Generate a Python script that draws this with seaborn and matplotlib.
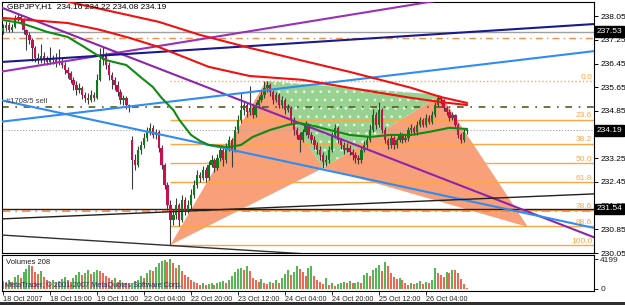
import numpy as np
import pandas as pd
import matplotlib
matplotlib.use("Agg")
import matplotlib.pyplot as plt
import matplotlib.transforms as mtransforms
from matplotlib.patches import Polygon, Rectangle
import seaborn as sns

# ---------------- data ----------------
time_labels = ["18 Oct 2007", "18 Oct 19:00", "19 Oct 11:00", "22 Oct 04:00", "22 Oct 20:00",
               "23 Oct 12:00", "24 Oct 04:00", "24 Oct 20:00", "25 Oct 12:00", "26 Oct 04:00"]
time_label_bars = [0, 16, 32, 48, 64, 80, 96, 112, 128, 144]

opens = [237.55, 237.65, 237.76, 237.59, 237.69, 237.99, 238.03, 237.92, 237.59, 237.42,
         237.25, 236.98, 236.64, 236.57, 236.71, 236.57, 236.51, 236.64, 236.57, 236.47,
         236.54, 236.40, 236.24, 236.13, 235.90, 235.73, 235.56, 235.63, 235.39, 235.29,
         235.22, 235.39, 235.29, 235.90, 236.57, 236.74, 236.40, 236.07, 235.90, 235.73,
         235.49, 235.22, 235.29, 235.05, 233.87, 233.19, 233.03, 233.53, 233.70, 233.94,
         234.14, 234.28, 234.04, 234.14, 233.60, 233.03, 232.35, 231.67, 231.17, 231.34,
         231.67, 231.17, 231.84, 231.51, 231.67, 232.01, 232.35, 232.69, 232.59, 232.86,
         232.59, 233.03, 233.19, 232.92, 233.26, 233.53, 233.19, 233.60, 233.87, 233.53,
         234.21, 234.55, 234.88, 235.05, 234.82, 234.95, 234.71, 235.05, 235.22, 235.39,
         235.63, 235.73, 235.49, 235.22, 235.39, 235.05, 235.22, 234.88, 234.95, 234.55,
         234.21, 234.04, 233.87, 234.14, 234.38, 234.04, 233.87, 233.70, 233.53, 233.36,
         233.13, 233.19, 233.53, 234.04, 234.28, 233.87, 233.70, 233.53, 233.60, 233.47,
         233.36, 233.26, 233.19, 233.53, 233.70, 233.87, 234.21, 234.71, 234.38, 234.88,
         234.21, 233.87, 233.70, 233.94, 233.70, 233.87, 234.04, 233.87, 233.94, 234.21,
         234.28, 234.14, 234.38, 234.55, 234.38, 234.61, 234.48, 234.71, 235.05, 235.29,
         235.22, 234.95, 234.82, 234.61, 234.71, 234.38, 234.04, 233.87, 234.16]
highs = [237.80, 237.88, 237.85, 237.80, 238.10, 238.12, 238.10, 237.98, 237.62, 237.50,
         237.30, 237.05, 236.80, 237.10, 236.85, 236.70, 237.00, 236.75, 236.80, 236.95,
         236.65, 236.50, 236.35, 236.20, 236.00, 235.85, 235.80, 235.70, 235.50, 235.45,
         235.55, 235.50, 236.10, 236.98, 237.00, 236.85, 236.50, 236.15, 236.00, 235.85,
         235.60, 235.40, 235.35, 235.10, 234.00, 233.40, 233.65, 233.85, 234.10, 234.30,
         234.45, 234.38, 234.25, 234.20, 233.70, 233.10, 232.45, 231.85, 231.55, 231.90,
         231.75, 232.00, 231.95, 231.85, 232.20, 232.50, 232.85, 232.80, 233.00, 232.95,
         233.15, 233.35, 233.25, 233.40, 233.65, 233.60, 233.75, 234.00, 233.95, 234.35,
         234.70, 235.45, 235.20, 235.15, 235.70, 235.05, 235.15, 235.35, 235.55, 235.86,
         235.85, 235.80, 235.55, 235.50, 235.45, 235.35, 235.30, 235.10, 235.00, 234.65,
         234.30, 234.15, 234.25, 234.50, 234.45, 234.15, 234.00, 233.80, 233.65, 233.45,
         233.35, 233.65, 234.15, 234.40, 234.35, 233.95, 233.80, 233.75, 233.70, 233.55,
         233.45, 233.35, 233.65, 233.85, 234.00, 234.40, 234.90, 234.80, 235.15, 234.95,
         234.30, 233.95, 234.05, 234.00, 233.95, 234.15, 234.10, 234.05, 234.30, 234.40,
         234.35, 234.50, 234.65, 234.60, 234.75, 234.70, 234.85, 235.15, 235.39, 235.35,
         235.25, 235.00, 234.90, 234.80, 234.75, 234.45, 234.10, 234.25, 234.22]
lows = [237.45, 237.55, 237.50, 237.52, 237.65, 237.90, 237.80, 237.45, 236.90, 237.10,
        236.55, 236.50, 236.45, 236.48, 236.45, 236.40, 236.45, 236.45, 236.35, 236.40,
        236.30, 236.10, 235.95, 235.80, 235.55, 235.40, 235.45, 235.25, 235.15, 235.10,
        235.15, 235.18, 235.25, 235.85, 236.40, 236.25, 235.90, 235.60, 235.55, 235.35,
        235.10, 235.05, 234.90, 234.82, 232.20, 232.85, 232.95, 233.40, 233.60, 233.85,
        234.05, 233.95, 233.90, 233.45, 232.90, 232.20, 231.50, 230.32, 231.00, 231.20,
        230.95, 231.10, 231.35, 231.40, 231.55, 231.90, 232.25, 232.45, 232.50, 232.45,
        232.50, 232.95, 232.80, 232.85, 233.15, 233.00, 233.10, 233.50, 232.95, 233.45,
        234.10, 234.45, 234.70, 234.65, 234.70, 234.60, 234.65, 234.95, 235.15, 235.30,
        235.50, 235.35, 235.10, 235.15, 234.95, 234.95, 234.75, 234.80, 234.40, 234.05,
        233.90, 233.45, 233.80, 234.05, 233.95, 233.75, 233.55, 233.40, 233.20, 232.92,
        233.00, 233.10, 233.45, 233.95, 233.75, 233.55, 233.40, 233.45, 233.35, 233.20,
        233.10, 233.05, 233.10, 233.45, 233.60, 233.80, 234.15, 234.25, 234.30, 234.10,
        233.75, 233.55, 233.60, 233.55, 233.60, 233.80, 233.75, 233.80, 233.85, 234.10,
        234.05, 234.05, 234.30, 234.30, 234.30, 234.40, 234.40, 234.65, 235.00, 235.10,
        234.85, 234.70, 234.50, 234.55, 234.30, 233.95, 233.75, 233.80, 234.08]
closes = [237.65, 237.76, 237.59, 237.69, 237.99, 238.03, 237.92, 237.59, 237.42, 237.25,
          236.98, 236.64, 236.57, 236.71, 236.57, 236.51, 236.64, 236.57, 236.47, 236.54,
          236.40, 236.24, 236.13, 235.90, 235.73, 235.56, 235.63, 235.39, 235.29, 235.22,
          235.39, 235.29, 235.90, 236.57, 236.74, 236.40, 236.07, 235.90, 235.73, 235.49,
          235.22, 235.29, 235.05, 234.95, 233.19, 233.03, 233.53, 233.70, 233.94, 234.14,
          234.28, 234.04, 234.14, 233.60, 233.03, 232.35, 231.67, 231.17, 231.34, 231.67,
          231.17, 231.84, 231.51, 231.67, 232.01, 232.35, 232.69, 232.59, 232.86, 232.59,
          233.03, 233.19, 232.92, 233.26, 233.53, 233.19, 233.60, 233.87, 233.53, 234.21,
          234.55, 234.88, 235.05, 234.82, 234.95, 234.71, 235.05, 235.22, 235.39, 235.63,
          235.73, 235.49, 235.22, 235.39, 235.05, 235.22, 234.88, 234.95, 234.55, 234.21,
          234.04, 233.87, 234.14, 234.38, 234.04, 233.87, 233.70, 233.53, 233.36, 233.13,
          233.19, 233.53, 234.04, 234.28, 233.87, 233.70, 233.53, 233.60, 233.47, 233.36,
          233.26, 233.19, 233.53, 233.70, 233.87, 234.21, 234.71, 234.38, 234.88, 234.21,
          233.87, 233.70, 233.94, 233.70, 233.87, 234.04, 233.87, 233.94, 234.21, 234.28,
          234.14, 234.38, 234.55, 234.38, 234.61, 234.48, 234.71, 235.05, 235.29, 235.22,
          234.95, 234.82, 234.61, 234.71, 234.38, 234.04, 233.87, 234.14, 234.19]
volumes = [1100, 900, 1300, 1000, 1700, 2000, 1600, 2400, 2800, 3300,
           3200, 2400, 2100, 2500, 1700, 1200, 1000, 1300, 900, 1100,
           1400, 1700, 1200, 1000, 1600, 2000, 2400, 1900, 2300, 2600,
           2100, 2400, 2700, 2500, 2200, 1800, 1500, 1300, 1600, 1000,
           1200, 900, 800, 700, 900, 1100, 1300, 1800, 1600, 2200,
           2700, 2500, 3100, 3600, 3900, 4100, 3800, 4199, 3600, 3000,
           3300, 2500, 2000, 1700, 1200, 1000, 800, 600, 900, 500,
           700, 800, 600, 900, 1000, 1100, 900, 1300, 1800, 2400,
           2800, 3000, 2600, 3200, 2500, 1600, 1200, 1000, 1400, 900,
           700, 1000, 800, 1200, 900, 1500, 2100, 2600, 2000, 2400,
           3200, 2800, 2400, 1800, 3000, 3200, 1800, 1300, 1000, 700,
           1500, 600, 900, 400, 700, 800, 1000, 900, 1100, 800,
           900, 1000, 800, 2000, 2300, 1800, 2600, 2900, 3300, 2500,
           3800, 3200, 2200, 1700, 1400, 1600, 1200, 900, 600, 800,
           700, 900, 1100, 700, 1000, 800, 1200, 2900, 2200, 2000,
           1700, 2400, 2300, 2700, 2600, 2200, 1400, 700, 208]

ma_green_bars = [0, 2, 6, 10, 15, 22, 27, 32, 35, 39, 42, 47, 51, 54, 58, 60, 64, 67, 70,
                 77, 81, 85, 91, 97, 101, 106, 111, 118, 125, 132, 139, 145, 152, 158]
ma_green = [237.92, 237.89, 237.82, 237.69, 237.52, 237.35, 237.05, 236.74, 236.57, 236.47,
            236.40, 235.98, 235.66, 235.29, 234.88, 234.55, 234.04, 233.84, 233.70, 233.63,
            233.70, 233.97, 234.21, 234.38, 234.44, 234.34, 234.21, 234.04, 233.97, 234.04,
            234.04, 234.14, 234.28, 234.24]
ma_red1_bars = [0, 27, 33, 43, 53, 67, 84, 101, 118, 139, 149, 158]
ma_red1 = [239.04, 238.43, 238.30, 238.08, 237.86, 237.42, 236.98, 236.57, 236.17, 235.63, 235.32, 235.12]
ma_red2_bars = [0, 22, 33, 43, 53, 70, 84, 102, 118, 139, 149, 158]
ma_red2 = [237.99, 237.82, 237.59, 237.32, 237.01, 236.34, 236.03, 235.90, 235.63, 235.29, 235.15, 235.05]

trend_bar0 = [-1, -1, -1, -1, -1, -1, -1]
trend_p0 = [236.17, 238.36, 236.50, 234.48, 235.22, 231.20, 230.66]
trend_bar1 = [202, 202, 202, 202, 202, 202, 202]
trend_p1 = [239.45, 230.55, 237.79, 236.88, 230.88, 232.05, 229.41]

level_prices = [237.53, 237.30, 234.99, 234.19, 231.54, 231.48]
fib_levels = [0.0, 23.6, 38.2, 50.0, 61.8, 78.6, 88.6, 100.0]
pattern_names = ["X", "A", "B", "C", "D"]
pattern_bars = [57, 89.5, 109, 149, 178.7]
pattern_prices = [230.32, 235.86, 232.92, 235.39, 230.93]

price_ticks = [238.05, 237.25, 236.45, 235.65, 234.85, 234.05, 233.25, 232.45, 231.65, 230.85, 230.05]
boxed_prices = [237.53, 234.19, 231.54]
title_text = "GBPJPY,H1  234.16 234.22 234.08 234.19"
order_text = "#1708/5 sell"

# ---------------- styling ----------------
sns.set_style("white")
plt.rcParams["font.family"] = ["Liberation Sans", "DejaVu Sans"]
plt.rcParams["hatch.linewidth"] = 0.7

W, H = 625, 305
fig = plt.figure(figsize=(W / 100, H / 100), dpi=100)
fig.patch.set_facecolor("white")


def frac(x0, y0, x1, y1):
    return [x0 / W, 1 - y1 / H, (x1 - x0) / W, (y1 - y0) / H]


ax = fig.add_axes(frac(2, 2, 594, 253))
axv = fig.add_axes(frac(2, 255, 594, 291))
XL = (-0.34, 201.2)
for a in (ax, axv):
    a.set_xlim(*XL)
    a.set_facecolor("white")
    for s in a.spines.values():
        s.set_color("black")
        s.set_linewidth(0.8)
ax.set_ylim(230.05, 238.53)

blend = mtransforms.blended_transform_factory(ax.transAxes, ax.transData)

# pattern fills
P = dict(zip(pattern_names, zip(pattern_bars, pattern_prices)))
orange_fill = "#f7a07a"
for tri in (("X", "A", "B"), ("B", "C", "D")):
    ax.add_patch(Polygon([P[k] for k in tri], closed=True, facecolor=orange_fill,
                         edgecolor="none", zorder=1))
ax.add_patch(Polygon([P[k] for k in ("A", "B", "C")], closed=True, facecolor="#98d290",
                     edgecolor="#e8f6e4", hatch="..", lw=0, zorder=1.1))

# fib levels
fa, fx = pattern_prices[1], pattern_prices[0]
fib_col = "#ffa545"
for lvl in fib_levels:
    pr = fa - lvl / 100.0 * (fa - fx)
    ax.hlines(pr, pattern_bars[0], XL[1], colors=fib_col, lw=1.0,
              linestyles=":" if lvl == 0 else "-", zorder=2)
    ax.text(0.997, pr + 0.01, f"{lvl:.1f}", transform=blend, ha="right", va="bottom",
            fontsize=6, color=fib_col, zorder=7)

# horizontal levels
lvl_styles = [("#a0a0a0", "-", 1.0), ("#f09050", (0, (5, 3, 1, 3)), 1.0),
              ("#5a5a20", (0, (4, 4, 1, 4)), 1.2), ("#b0a0a0", ":", 0.8),
              ("#202020", "-", 1.0), ("#f08040", (0, (5, 3, 1, 3)), 1.2)]
for pr, (col, ls, lw) in zip(level_prices, lvl_styles):
    ax.axhline(pr, color=col, ls=ls, lw=lw, zorder=2)
ax.text(0.006, level_prices[2] + 0.06, order_text, transform=blend, fontsize=5.5,
        color="#404040", va="bottom", ha="left", zorder=7)

# trend lines
trend_styles = [("#9a2fb8", 1.5), ("#8e24aa", 1.5), ("#1a1a8c", 1.5), ("#2f8cf0", 1.5),
                ("#2f8cf0", 1.5), ("#202020", 1.0), ("#303030", 1.0)]
for b0, p0, b1, p1, (col, lw) in zip(trend_bar0, trend_p0, trend_bar1, trend_p1, trend_styles):
    ax.plot([b0, b1], [p0, p1], color=col, lw=lw, zorder=4.5, solid_capstyle="butt")

# candles
idx = np.arange(len(closes))
o, h, l, c = map(np.asarray, (opens, highs, lows, closes))
up = c >= o
ax.vlines(idx, l, h, colors="#3c3c3c", lw=0.8, zorder=4)
body = np.where(np.abs(c - o) < 0.03, 0.03, c - o)
ax.bar(idx[up], body[up], bottom=o[up], width=0.8, color="#0c7c18", lw=0, zorder=4.2)
ax.bar(idx[~up], body[~up], bottom=o[~up], width=0.8, color="#c8104f", lw=0, zorder=4.2)

# moving averages
sns.lineplot(x=ma_red1_bars, y=ma_red1, ax=ax, color="#f01010", lw=1.5, zorder=5)
sns.lineplot(x=ma_red2_bars, y=ma_red2, ax=ax, color="#f01010", lw=1.5, zorder=5)
sns.lineplot(x=ma_green_bars, y=ma_green, ax=ax, color="#108a10", lw=1.5, zorder=5)

# axes / ticks main
ax.set_xlabel("")
ax.set_ylabel("")
ax.yaxis.tick_right()
ax.set_yticks(price_ticks)
ax.set_yticklabels([f"{t:.2f}" for t in price_ticks])
ax.tick_params(axis="y", labelsize=6, length=3, width=0.7, pad=1.5, right=True, left=False,
               colors="black")
ax.tick_params(axis="x", bottom=False, labelbottom=False)
for pr in boxed_prices:
    ax.text(1.004, pr, f"{pr:.2f}", transform=blend, ha="left", va="center", fontsize=6,
            color="white", zorder=10, clip_on=False,
            bbox=dict(boxstyle="square,pad=0.2", fc="black", ec="black"))
ax.text(0.008, 0.982, title_text, transform=ax.transAxes, fontsize=6, va="center", ha="left",
        color="black", zorder=8)

# volumes
vol = np.asarray(volumes)
prev = np.concatenate([[vol[0]], vol[:-1]])
vcols = np.where(vol >= prev, "#20a020", "#e83a1c")
axv.vlines(idx, 0, vol, colors=vcols, lw=1.1)
axv.set_ylim(-280, 4759)
axv.yaxis.tick_right()
axv.set_yticks([0, 4199])
axv.set_yticklabels(["0", "4199"])
axv.tick_params(axis="y", labelsize=6, length=3, width=0.7, pad=1.5, right=True, left=False)
axv.set_xticks(time_label_bars)
axv.set_xticklabels(time_labels, fontsize=5.2, ha="left")
axv.tick_params(axis="x", length=3, width=0.7, pad=0.5, bottom=True)
axv.text(0.006, 0.8, f"Volumes {volumes[-1]}", transform=axv.transAxes, fontsize=5.5,
         va="center", ha="left", color="#202020")
axv.text(0.005, 0.17, "MetaTrader, \u00a9 2001-2007 MetaQuotes Software Corp.",
         transform=axv.transAxes, fontsize=5.3, va="center", ha="left", color="#303060")

fig.add_artist(Rectangle((0, 0), 1, 3 / H, transform=fig.transFigure, color="#303030", lw=0))

fig.savefig("out.png", dpi=100, facecolor="white")
